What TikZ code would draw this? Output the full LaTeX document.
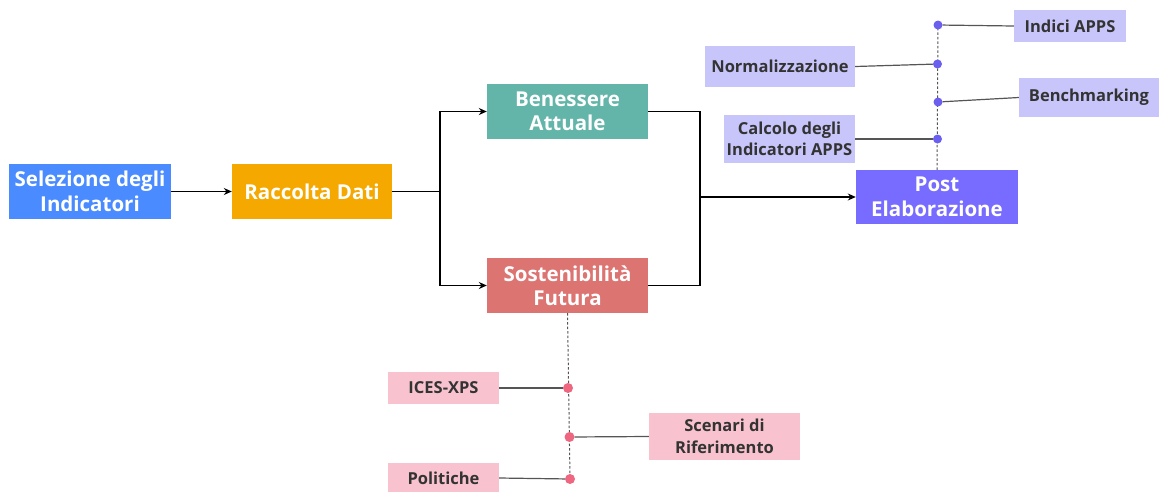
\documentclass[tikz,border=0pt]{standalone}
\usepackage{fontspec}
\setmainfont{Open Sans}
\usetikzlibrary{arrows.meta}
\definecolor{cblue}{HTML}{4A8CFF}
\definecolor{corange}{HTML}{F5A800}
\definecolor{cteal}{HTML}{62B5A8}
\definecolor{cred}{HTML}{DC7472}
\definecolor{cpurple}{HTML}{776CFF}
\definecolor{clav}{HTML}{C8C5FA}
\definecolor{cpink}{HTML}{F8C3CE}
\definecolor{cdotp}{HTML}{6B5FF0}
\definecolor{cdotr}{HTML}{EE6680}
\definecolor{ctext}{HTML}{333333}
\definecolor{cline}{HTML}{555555}
\tikzset{
  mainbox/.style={inner sep=1pt, align=center, text=white,
    font=\bfseries\fontsize{20.5}{24.5}\selectfont},
  sidebox/.style={inner sep=2pt, align=center, text=ctext,
    font=\bfseries\fontsize{16.5}{21.5}\selectfont},
  flow/.style={line width=1.2pt, black, -{Stealth[length=8pt,width=7pt]}},
  plain/.style={line width=1.2pt, black},
  leg/.style={line width=1.2pt, cline},
  dotline/.style={line width=1pt, cline, dash pattern=on 2.5pt off 2pt},
  pdot/.style={circle, fill=cdotp, inner sep=0pt, minimum size=9pt},
  rdot/.style={circle, fill=cdotr, inner sep=0pt, minimum size=10pt},
}
\begin{document}
\begin{tikzpicture}[x=1pt,y=-1pt]
\useasboundingbox (0,0) rectangle (1159,491);
% main boxes
\node[mainbox, fill=cblue, minimum width=162pt, minimum height=55pt] (sel) at (90,191.5) {Selezione degli\\Indicatori};
\node[mainbox, fill=corange, minimum width=160pt, minimum height=55pt] (rac) at (312,191.5) {Raccolta Dati};
\node[mainbox, fill=cteal, minimum width=161pt, minimum height=55pt] (ben) at (567.5,111.5) {Benessere\\Attuale};
\node[mainbox, fill=cred, minimum width=161pt, minimum height=55pt] (sos) at (567.5,285.5) {Sostenibilità\\Futura};
\node[mainbox, fill=cpurple, minimum width=162pt, minimum height=54pt] (post) at (937,197) {Post\\Elaborazione};
% side boxes
\node[sidebox, fill=clav, minimum width=112pt, minimum height=32pt] (indici) at (1070,26) {Indici APPS};
\node[sidebox, fill=clav, minimum width=150pt, minimum height=41pt] (norm) at (780,66.5) {Normalizzazione};
\node[sidebox, fill=clav, minimum width=140pt, minimum height=39pt] (bench) at (1089,97.5) {Benchmarking};
\node[sidebox, fill=clav, minimum width=131pt, minimum height=48pt] (calc) at (789.5,139) {Calcolo degli\\Indicatori APPS};
\node[sidebox, fill=cpink, minimum width=111pt, minimum height=32pt] (ices) at (443.5,388) {ICES-XPS};
\node[sidebox, fill=cpink, minimum width=151pt, minimum height=47pt] (scen) at (724.5,436.5) {Scenari di\\Riferimento};
\node[sidebox, fill=cpink, minimum width=111pt, minimum height=30pt] (pol) at (443.5,478) {Politiche};
% flow connectors
\draw[flow] (sel.east) -- (rac.west);
\coordinate (split) at (440,191.5);
\coordinate (merge) at (700,197);
\draw[plain] (rac.east) -- (split);
\draw[flow] (split) |- (ben.west);
\draw[flow] (split) |- (sos.west);
\draw[plain] (ben.east) -| (merge);
\draw[plain] (sos.east) -| (merge);
\draw[flow] (merge) -- (post.west);
% purple spine
\coordinate (ptop) at (938,25);
\draw[dotline] (post.north) -- (ptop);
\node[pdot] (d1) at (938,25) {};
\node[pdot] (d2) at (937.5,64) {};
\node[pdot] (d3) at (938,102) {};
\node[pdot] (d4) at (937.5,139) {};
\draw[leg] (d1) -- (indici.west);
\draw[leg] (norm.east) -- (d2);
\draw[leg] (d3) -- (bench.west);
\draw[leg] (calc.east) -- (d4);
% red spine
\coordinate (rbot) at (570,479);
\draw[dotline] (sos.south) -- (rbot);
\node[rdot] (r1) at (568,388) {};
\node[rdot] (r2) at (569.5,437) {};
\node[rdot] (r3) at (570,479) {};
\draw[leg] (ices.east) -- (r1);
\draw[leg] (r2) -- (scen.west);
\draw[leg] (pol.east) -- (r3);
\end{tikzpicture}
\end{document}
